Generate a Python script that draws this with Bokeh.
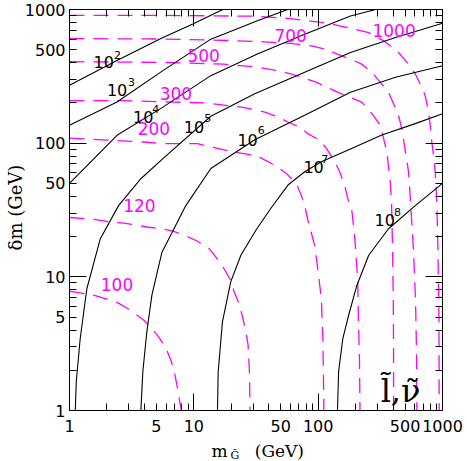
from bokeh.plotting import figure
from bokeh.models import LogAxis, FixedTicker, Label
from bokeh.core.properties import value
from bokeh.embed import file_html
from bokeh.resources import INLINE

# ---- black solid contours (10^2 ... 10^8) ----
c2_x = [1, 2.41, 5.43, 9.82, 17.1]
c2_y = [271, 416, 606, 778, 1000]
c3_x = [1, 2.41, 5.64, 13.7, 32.1, 56.9]
c3_y = [136, 203, 349, 600, 821, 1000]
c4_x = [1, 2.41, 5.64, 13.7, 32.1, 77.9, 182, 290]
c4_y = [50, 114.5, 186, 320, 463, 653, 894, 1000]
c5_x = [1.113, 1.134, 1.22, 1.38, 1.77, 2.48, 3.75, 5.64, 13.7, 30.9, 77.9, 182, 419, 1000]
c5_y = [1, 1.65, 3.47, 8.18, 19.3, 34.1, 54.2, 76.7, 159, 234, 339, 477, 617, 788]
c6_x = [3.75, 3.89, 4.19, 4.6, 5.53, 8.62, 13.7, 30.9, 77.9, 182, 419, 1000]
c6_y = [1, 1.96, 3.89, 7.3, 15.2, 34.1, 64.6, 106, 162, 240, 311, 380]
c7_x = [15.5, 15.7, 17.0, 19.8, 23.9, 32.1, 42.1, 57.2, 77.9, 106, 182, 325, 604, 1000]
c7_y = [1, 1.96, 4.62, 9.17, 14.5, 22.9, 33.0, 48.6, 61.1, 72.5, 90.6, 115, 140, 166]
c8_x = [143, 146, 158, 176, 205, 255, 368, 604, 1000]
c8_y = [1, 1.96, 3.47, 5.18, 8.66, 14.5, 22.9, 34.1, 50]

# ---- magenta dashed contours (100 ... 1000) ----
m100_x = [1, 1.56, 2.0, 2.5, 3.08, 3.94, 4.46, 5.2, 5.96, 6.53, 6.95, 7.3, 7.62, 7.94]
m100_y = [7.81, 7.30, 6.81, 6.33, 5.64, 4.75, 4.24, 3.57, 2.93, 2.39, 1.96, 1.56, 1.24, 1]
m120_x = [1, 1.63, 2.15, 2.64, 3.3, 4.19, 5.64, 6.78, 8.31, 10.4, 13.0, 15.0, 17.5, 19.8,
          21.1, 23.1, 24.6, 26.2, 27.3, 28.0, 28.3]
m120_y = [27.8, 26.8, 25.7, 25.3, 24.6, 23.6, 22.8, 22.0, 20.6, 18.7, 16.7, 14.1, 11.5, 9.43,
          7.72, 6.33, 5.03, 3.89, 3.10, 1.96, 1]
m200_x = [1, 2.15, 3.97, 5.64, 10.7, 13.7, 20.9, 32.1, 44.7, 55.6, 66.8, 76.5, 82.8, 93.7,
          99.6, 106, 109, 111, 111]
m200_y = [109, 105, 102, 99.1, 99.1, 93.7, 86.1, 80.3, 68.5, 59.3, 50, 36.5, 26.4, 17.2,
          11.2, 6.9, 3.57, 1.21, 1]
m300_x = [1, 2.59, 6.91, 12.5, 18.8, 23.9, 30.9, 37.2, 47.3, 56.9, 71.0, 82.4, 103, 117, 136,
          149, 163, 173, 187, 196, 201, 208, 211, 215, 217]
m300_y = [208, 208, 203, 200, 191, 186, 178, 171, 157, 144, 132, 118, 105, 91, 72.5,
          61.1, 48.6, 38.6, 30.8, 20.4, 15.3, 9.28, 4.67, 2.36, 1]
m500_x = [1, 5.64, 17.4, 30.9, 47.3, 61.2, 73.7, 97.3, 117, 154, 224, 271, 316, 336, 357,
          368, 380, 389, 397, 402, 404, 404]
m500_y = [407, 402, 390, 372, 349, 329, 311, 285, 262, 234, 203, 166, 136, 108, 86.1,
          66.5, 51.4, 36.5, 15.5, 6.58, 2.79, 1]
m700_x = [1, 5.64, 19.8, 37.2, 60.1, 88.7, 113, 143, 182, 224, 271, 316, 368, 404, 443, 471,
          504, 533, 553, 585, 607, 618, 622]
m700_y = [606, 601, 586, 573, 557, 535, 505, 463, 425, 390, 339, 285, 240, 197, 161, 128,
          86.1, 61.1, 36.5, 15.5, 6.58, 2.79, 1]
m1000_x = [1, 5.64, 30.9, 60.1, 120, 158, 255, 336, 380, 443, 533, 604, 662, 726, 772, 797,
           820, 847, 874, 900, 920, 937, 940]
m1000_y = [903, 903, 891, 855, 788, 745, 672, 583, 535, 477, 390, 329, 277, 227, 171, 136,
           102, 81.3, 61.1, 36.5, 15.5, 4.67, 1]

# ---- contour labels ----
exp_labels = ["2", "3", "4", "5", "6", "7", "8"]
base_x = [1.56, 2.0, 3.24, 8.31, 22.4, 76.1, 284]
base_y = [402, 248, 157, 132, 106, 66.5, 26.8]
exp_x = [2.28, 2.95, 4.64, 12.1, 32.7, 106, 408]
exp_y = [453, 285, 180, 154, 125, 76.3, 30.8]

mag_labels = ["100", "120", "200", "300", "500", "700", "1000"]
mag_x = [2.41, 3.65, 4.77, 7.17, 12.0, 60.1, 408]
mag_y = [8.81, 34.4, 129, 234, 451, 644, 692]

tick_values = [d * m for d in (1, 10, 100) for m in range(1, 10)] + [1000]
decade_ticks = [1, 10, 100, 1000]
labeled_ticks = [1, 5, 10, 50, 100, 500, 1000]

BLACK_CURVES = [(c2_x, c2_y), (c3_x, c3_y), (c4_x, c4_y), (c5_x, c5_y),
                (c6_x, c6_y), (c7_x, c7_y), (c8_x, c8_y)]
MAG_CURVES = [(m100_x, m100_y), (m120_x, m120_y), (m200_x, m200_y), (m300_x, m300_y),
              (m500_x, m500_y), (m700_x, m700_y), (m1000_x, m1000_y)]

MAGENTA = "#ff00ff"
NUM_FONT = "DejaVu Sans"
SERIF = "DejaVu Serif"
NBSP = "\u00a0"

p = figure(width=466, height=461, x_axis_type="log", y_axis_type="log",
           x_range=(1, 1000), y_range=(1, 1000), output_backend="svg",
           toolbar_location=None, min_border_left=68, min_border_right=24,
           min_border_top=9, min_border_bottom=51)
p.xgrid.visible = False
p.ygrid.visible = False
p.outline_line_color = "black"
p.outline_line_width = 1
p.background_fill_color = "white"
p.border_fill_color = "white"

shown = {t: (str(int(t)) if t in labeled_ticks else "") for t in tick_values}
blank = {t: "" for t in tick_values}


def style_axis(ax, show):
    ax.ticker = FixedTicker(ticks=tick_values, minor_ticks=decade_ticks)
    ax.major_tick_in = 7
    ax.major_tick_out = 0
    ax.minor_tick_in = 17
    ax.minor_tick_out = 0
    ax.axis_line_color = "black"
    ax.major_tick_line_color = "black"
    ax.minor_tick_line_color = "black"
    if show:
        ax.major_label_overrides = shown
        ax.major_label_text_font = NUM_FONT
        ax.major_label_text_font_size = "16px"
        ax.major_label_text_color = "black"
    else:
        ax.major_label_overrides = blank
        ax.major_label_text_font_size = "0px"
        ax.major_label_standoff = 0


style_axis(p.xaxis[0], True)
style_axis(p.yaxis[0], True)
p.xaxis[0].major_label_standoff = 9
p.yaxis[0].major_label_standoff = 4
right_ax = LogAxis()
top_ax = LogAxis()
p.add_layout(right_ax, "right")
p.add_layout(top_ax, "above")
style_axis(right_ax, False)
style_axis(top_ax, False)

for xs, ys in MAG_CURVES:
    p.line(xs, ys, line_color=MAGENTA, line_width=1.3, line_dash="15 9")
for xs, ys in BLACK_CURVES:
    p.line(xs, ys, line_color="black", line_width=1.1)

p.text(x=base_x, y=base_y, text=["10"] * len(base_x), text_font=value(NUM_FONT),
       text_font_size="16px", text_align="left", text_baseline="alphabetic",
       text_color="black")
p.text(x=exp_x, y=exp_y, text=exp_labels, text_font=value(NUM_FONT),
       text_font_size="11px", text_align="left", text_baseline="alphabetic",
       text_color="black")
p.text(x=mag_x, y=mag_y, text=mag_labels, text_font=value(NUM_FONT),
       text_font_size="17px", text_align="center", text_baseline="middle",
       text_color=MAGENTA)

# panel tag inside the frame
p.add_layout(Label(x=318, y=1.40, text="l\u0303,\u03bd\u0303", text_font=SERIF,
                   text_font_size="32px", text_align="left", text_baseline="alphabetic",
                   text_color="black"))

# axis titles, placed in side panels so that they are not clipped to the frame
p.add_layout(Label(x=0.369, y=33.0, text="\u03b4m (GeV)", angle=1.5708,
                   text_font=SERIF, text_font_size="18px", text_align="center",
                   text_baseline="middle", text_color="black"), "left")
p.add_layout(Label(x=13.9, y=0.502, text="m" + NBSP * 5 + "(GeV)", text_font=SERIF,
                   text_font_size="17px", text_align="left", text_baseline="alphabetic",
                   text_color="black"), "below")
p.add_layout(Label(x=19.7, y=0.461, text="G\u0303", text_font=SERIF, text_font_size="11px",
                   text_align="left", text_baseline="alphabetic", text_color="black"), "right")

open("out.html", "w").write(file_html(p, INLINE))
